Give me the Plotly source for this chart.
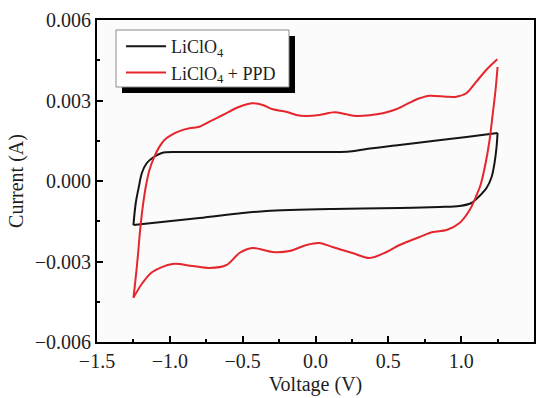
import plotly.graph_objects as go

# Cyclic voltammograms, potential in V and current in A
# LiClO4 electrolyte: forward (anodic) sweep and reverse (cathodic) sweep
v_licl_fwd = [-1.250, -1.234, -1.213, -1.192, -1.158, -1.110, -1.055, -0.958, -0.728,
              -0.316, 0.234, 0.350, 0.577, 0.804, 1.037, 1.250]
i_licl_fwd = [-0.001640, -0.000820, -0.000224, 0.000298, 0.000671, 0.000895, 0.001044,
              0.001081, 0.001081, 0.001081, 0.001100, 0.001193, 0.001342, 0.001491,
              0.001640, 0.001789]
v_licl_rev = [1.250, 1.243, 1.229, 1.209, 1.174, 1.126, 1.071, 0.989, 0.852, 0.577,
              0.117, -0.337, -0.501, -0.797, -1.250]
i_licl_rev = [0.001789, 0.001267, 0.000671, 0.000149, -0.000261, -0.000559, -0.000820,
              -0.000932, -0.000969, -0.001006, -0.001044, -0.001118, -0.001193,
              -0.001379, -0.001640]

# LiClO4 + PPD electrolyte
v_ppd_fwd = [-1.250, -1.236, -1.220, -1.204, -1.186, -1.163, -1.140, -1.106, -1.071,
             -1.037, -0.991, -0.934, -0.865, -0.797, -0.728, -0.637, -0.522, -0.431,
             -0.362, -0.293, -0.201, -0.133, -0.064, 0.027, 0.130, 0.211, 0.280, 0.371,
             0.462, 0.554, 0.646, 0.714, 0.783, 0.898, 0.966, 1.035, 1.104, 1.172, 1.248]
i_ppd_fwd = [-0.00435, -0.00369, -0.00282, -0.00183, -0.00096, -0.00015, 0.00041,
             0.00091, 0.00128, 0.00153, 0.00171, 0.00186, 0.001964, 0.002024, 0.002210,
             0.002460, 0.002769, 0.002896, 0.002833, 0.002672, 0.002583, 0.002460,
             0.002423, 0.002460, 0.002561, 0.002486, 0.002423, 0.002449, 0.002523,
             0.002672, 0.002918, 0.003082, 0.003179, 0.003142, 0.003142, 0.003269,
             0.003701, 0.004137, 0.004536]
v_ppd_rev = [1.250, 1.236, 1.216, 1.195, 1.168, 1.133, 1.106, 1.058, 0.989, 0.900,
             0.804, 0.714, 0.577, 0.488, 0.371, 0.254, 0.117, 0.027, -0.062, -0.179,
             -0.295, -0.433, -0.522, -0.611, -0.728, -0.845, -0.982, -1.120, -1.188,
             -1.250]
i_ppd_rev = [0.004249, 0.003392, 0.002460, 0.001528, 0.000671, -0.000149, -0.000522,
             -0.001081, -0.001565, -0.001826, -0.001901, -0.002087, -0.002385,
             -0.002646, -0.002870, -0.002684, -0.002460, -0.002311, -0.002385,
             -0.002609, -0.002646, -0.002497, -0.002684, -0.003131, -0.003243,
             -0.003168, -0.003094, -0.003392, -0.003802, -0.004350]

x_tick_vals = [-1.5, -1.0, -0.5, 0.0, 0.5, 1.0, 1.5]
x_tick_text = ["\u22121.5", "\u22121.0", "\u22120.5", "0.0", "0.5", "1.0", "1.5"]
y_tick_vals = [-0.006, -0.003, 0.0, 0.003, 0.006]
y_tick_text = ["\u22120.006", "\u22120.003", "0.000", "0.003", "0.006"]

BLACK = "#151515"
RED = "#e5262d"
FONT = "Liberation Serif"
TEXT = "#1e1e1e"

# plot-area geometry in pixels, used to place the legend box
L, R, T, B = 97, 534, 20, 342
W, H = R - L, B - T


def px_x(p):
    return (p - L) / W


def px_y(p):
    return (B - p) / H


line_kw = dict(width=2, shape="spline", smoothing=0.9)

fig = go.Figure()
fig.add_trace(go.Scatter(x=v_licl_fwd, y=i_licl_fwd, mode="lines", name="LiClO<sub>4</sub>",
                         legendgroup="a", line=dict(color=BLACK, **line_kw)))
fig.add_trace(go.Scatter(x=v_licl_rev, y=i_licl_rev, mode="lines", showlegend=False,
                         legendgroup="a", line=dict(color=BLACK, **line_kw)))
fig.add_trace(go.Scatter(x=v_ppd_fwd, y=i_ppd_fwd, mode="lines", name="LiClO<sub>4</sub> + PPD",
                         legendgroup="b", line=dict(color=RED, **line_kw)))
fig.add_trace(go.Scatter(x=v_ppd_rev, y=i_ppd_rev, mode="lines", showlegend=False,
                         legendgroup="b", line=dict(color=RED, **line_kw)))

# legend frame with a drop shadow
fig.add_shape(type="rect", xref="paper", yref="paper",
              x0=px_x(122), x1=px_x(295), y0=px_y(93), y1=px_y(36),
              fillcolor="black", line=dict(width=0), layer="above")
fig.add_shape(type="rect", xref="paper", yref="paper",
              x0=px_x(116), x1=px_x(289), y0=px_y(87), y1=px_y(30),
              fillcolor="white", line=dict(color="#8a8a8a", width=1), layer="above")

fig.update_layout(
    width=546, height=398,
    margin=dict(l=L, r=546 - R, t=T, b=398 - B),
    paper_bgcolor="white", plot_bgcolor="#fbfbfb",
    font=dict(family=FONT, size=20, color=TEXT),
    showlegend=True,
    legend=dict(x=px_x(121), y=px_y(28), xanchor="left", yanchor="top",
                bgcolor="rgba(0,0,0,0)", borderwidth=0,
                font=dict(family=FONT, size=18, color=TEXT), tracegroupgap=0,
                itemwidth=40),
    xaxis=dict(range=[-1.5, 1.5], tickvals=x_tick_vals, ticktext=x_tick_text,
               ticks="inside", ticklen=6, tickwidth=2, tickcolor="black",
               showline=True, linewidth=2, linecolor="black", mirror=True,
               showgrid=False, zeroline=False, automargin=False,
               tickfont=dict(size=20),
               minor=dict(dtick=0.25, ticks="inside", ticklen=3, tickwidth=2, tickcolor="black"),
               title=dict(text="Voltage (V)", standoff=6, font=dict(size=20))),
    yaxis=dict(range=[-0.006, 0.006], tickvals=y_tick_vals, ticktext=y_tick_text,
               ticks="inside", ticklen=6, tickwidth=2, tickcolor="black",
               showline=True, linewidth=2, linecolor="black", mirror=True,
               showgrid=False, zeroline=False, automargin=False,
               tickfont=dict(size=20),
               minor=dict(dtick=0.0015, ticks="inside", ticklen=3, tickwidth=2, tickcolor="black"),
               title=dict(text="Current (A)", standoff=6, font=dict(size=20))),
)

fig.write_html("out.html")
